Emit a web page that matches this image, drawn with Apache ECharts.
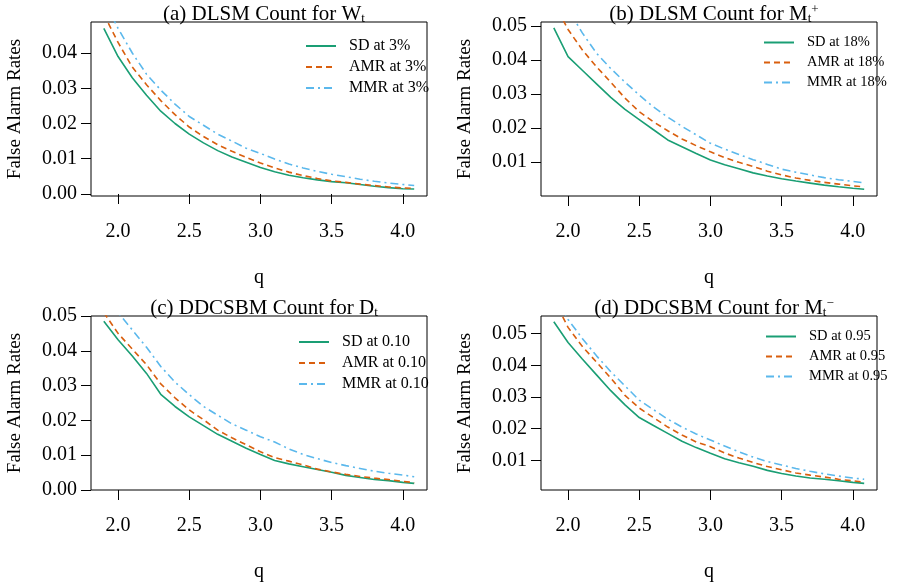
<!DOCTYPE html>
<html lang="en">
<head>
<meta charset="UTF-8">
<title>False Alarm Rates</title>
<style>html,body{margin:0;padding:0;background:#fff}#main{width:900px;height:588px}</style>
</head>
<body>
<div id="main"></div>
<script src="https://cdn.jsdelivr.net/npm/echarts@6/dist/echarts.min.js"></script>
<script>
var q = [1.9, 2.0, 2.1, 2.2, 2.3, 2.4, 2.5, 2.6, 2.7, 2.8, 2.9, 3.0, 3.1, 3.2, 3.3, 3.4, 3.5, 3.6, 3.7, 3.8, 3.9, 4.0, 4.08];
var xTicks = [2.0, 2.5, 3.0, 3.5, 4.0];

// (a) DLSM, W_t
var sdA  = [0.047, 0.039, 0.033, 0.028, 0.0235, 0.020, 0.017, 0.0145, 0.0123, 0.0105, 0.009, 0.0075, 0.0063, 0.0053, 0.0046, 0.004, 0.0035, 0.0032, 0.0027, 0.0022, 0.0018, 0.0015, 0.0014];
var amrA = [0.051, 0.043, 0.036, 0.031, 0.0265, 0.0225, 0.019, 0.0163, 0.014, 0.0121, 0.0104, 0.0088, 0.0074, 0.0062, 0.0052, 0.0044, 0.0037, 0.0033, 0.0028, 0.0024, 0.002, 0.0017, 0.0016];
var mmrA = [0.055, 0.047, 0.040, 0.034, 0.0295, 0.0255, 0.022, 0.0195, 0.017, 0.015, 0.013, 0.0115, 0.0099, 0.0085, 0.0074, 0.0064, 0.0056, 0.0049, 0.0042, 0.0036, 0.0031, 0.0027, 0.0024];
// (b) DLSM, M_t^+
var sdB  = [0.0495, 0.041, 0.037, 0.033, 0.029, 0.0255, 0.0225, 0.0195, 0.0165, 0.0145, 0.0125, 0.0106, 0.0092, 0.008, 0.0068, 0.0059, 0.0051, 0.0044, 0.0038, 0.0032, 0.0027, 0.0023, 0.002];
var amrB = [0.057, 0.049, 0.043, 0.038, 0.0335, 0.0288, 0.0248, 0.0218, 0.0192, 0.0168, 0.0148, 0.013, 0.0113, 0.0099, 0.0087, 0.0073, 0.0062, 0.0053, 0.0046, 0.004, 0.0035, 0.003, 0.0027];
var mmrB = [0.063, 0.055, 0.048, 0.042, 0.0375, 0.0335, 0.0297, 0.0262, 0.0232, 0.0205, 0.018, 0.0155, 0.0138, 0.0122, 0.0107, 0.0093, 0.0079, 0.007, 0.0062, 0.0054, 0.0048, 0.0043, 0.0039];
// (c) DDCSBM, D_t
var sdC  = [0.0485, 0.0432, 0.0385, 0.0335, 0.0275, 0.024, 0.021, 0.0185, 0.016, 0.014, 0.012, 0.0102, 0.0085, 0.0075, 0.0067, 0.0059, 0.0051, 0.0042, 0.0036, 0.003, 0.0027, 0.0022, 0.0019];
var amrC = [0.051, 0.045, 0.0405, 0.036, 0.0305, 0.0265, 0.023, 0.0202, 0.0172, 0.015, 0.013, 0.011, 0.0093, 0.0083, 0.0072, 0.006, 0.0052, 0.0045, 0.0039, 0.0034, 0.003, 0.0025, 0.0021];
var mmrC = [0.058, 0.051, 0.046, 0.041, 0.0355, 0.031, 0.0274, 0.024, 0.0215, 0.019, 0.0172, 0.0153, 0.0138, 0.0118, 0.0102, 0.009, 0.0079, 0.007, 0.0062, 0.0054, 0.0048, 0.0043, 0.0038];
// (d) DDCSBM, M_t^-
var sdD  = [0.0538, 0.0472, 0.042, 0.037, 0.032, 0.0275, 0.0235, 0.021, 0.0185, 0.016, 0.014, 0.0122, 0.0105, 0.0092, 0.0081, 0.0068, 0.0058, 0.005, 0.0044, 0.004, 0.0035, 0.003, 0.0027];
var amrD = [0.061, 0.052, 0.046, 0.041, 0.036, 0.0305, 0.0265, 0.0235, 0.0205, 0.018, 0.0158, 0.0143, 0.0123, 0.0107, 0.0093, 0.008, 0.007, 0.006, 0.0053, 0.0047, 0.004, 0.0035, 0.0031];
var mmrD = [0.063, 0.0545, 0.0485, 0.043, 0.038, 0.0335, 0.029, 0.026, 0.023, 0.0205, 0.0183, 0.0164, 0.0145, 0.0127, 0.011, 0.0096, 0.0085, 0.0074, 0.0065, 0.0057, 0.005, 0.0044, 0.004];

var levels = ['3%', '18%', '0.10', '0.95'];
var yTicksA = [0, 0.01, 0.02, 0.03, 0.04];
var yTicksB = [0.01, 0.02, 0.03, 0.04, 0.05];
var yTicksC = [0, 0.01, 0.02, 0.03, 0.04, 0.05];

var FONT = '"Liberation Serif", "DejaVu Serif", serif';
var colors = ['#1a9e74', '#d95f0e', '#5bb8ec'];
var dashes = ['solid', [6, 4], [8, 4, 2, 4]];

var panels = [
    {left: 91, top: 22, ymin: -0.00057, ymax: 0.0488, ticks: yTicksA, data: [sdA, amrA, mmrA], lg: [300, 33], fs: 16},
    {left: 541, top: 22, ymin: 0, ymax: 0.0512, ticks: yTicksB, data: [sdB, amrB, mmrB], lg: [758, 30], fs: 14.5},
    {left: 91, top: 316, ymin: 0, ymax: 0.05, ticks: yTicksC, data: [sdC, amrC, mmrC], lg: [293, 329], fs: 16},
    {left: 541, top: 316, ymin: 0.0006, ymax: 0.0556, ticks: yTicksB, data: [sdD, amrD, mmrD], lg: [760, 324], fs: 14.5}
];
var titles = [
    ['(a) DLSM Count for W', '{sub|t}'],
    ['(b) DLSM Count for M', '{sub|t}{sup|+}'],
    ['(c) DDCSBM Count for D', '{sub|t}'],
    ['(d) DDCSBM Count for M', '{sub|t}{sup|\u2212}']
];
var methods = ['SD', 'AMR', 'MMR'];

var option = {
    animation: false,
    backgroundColor: '#fff',
    textStyle: {fontFamily: FONT},
    grid: [], xAxis: [], yAxis: [], series: [], legend: [], title: []
};

panels.forEach(function (p, i) {
    option.grid.push({left: p.left, top: p.top, width: 336, height: 174, show: true, borderColor: '#000', borderWidth: 1});
    option.xAxis.push({
        type: 'value', gridIndex: i, min: 1.81, max: 4.17,
        name: 'q', nameLocation: 'middle', nameGap: 72,
        nameTextStyle: {fontFamily: FONT, fontSize: 20, color: '#000'},
        axisLine: {show: false},
        axisTick: {show: true, length: 10, lineStyle: {color: '#000'}, customValues: xTicks},
        axisLabel: {fontFamily: FONT, fontSize: 20, color: '#000', margin: 26, customValues: xTicks,
            formatter: function (v) { return v.toFixed(1); }},
        splitLine: {show: false}
    });
    option.yAxis.push({
        type: 'value', gridIndex: i, min: p.ymin, max: p.ymax,
        name: 'False Alarm Rates', nameLocation: 'middle', nameGap: 66,
        nameTextStyle: {fontFamily: FONT, fontSize: 19, color: '#000'},
        axisLine: {show: false},
        axisTick: {show: true, length: 10, lineStyle: {color: '#000'}, customValues: p.ticks},
        axisLabel: {fontFamily: FONT, fontSize: 20, color: '#000', margin: 14, customValues: p.ticks,
            formatter: function (v) { return v.toFixed(2); }},
        splitLine: {show: false}
    });
    var names = [];
    methods.forEach(function (m, k) {
        var name = m + ' at ' + levels[i];
        names.push(name);
        option.series.push({
            name: name, type: 'line', xAxisIndex: i, yAxisIndex: i,
            data: q.map(function (x, j) { return [x, p.data[k][j]]; }),
            symbol: 'none', clip: true,
            lineStyle: {color: colors[k], width: 1.6, type: dashes[k]},
            itemStyle: {color: colors[k]}
        });
    });
    option.legend.push({
        data: names, orient: 'vertical', left: p.lg[0], top: p.lg[1],
        itemWidth: 30, itemHeight: 12, itemGap: 5, selectedMode: false,
        itemStyle: {opacity: 0},
        textStyle: {fontFamily: FONT, fontSize: p.fs, color: '#000', padding: [0, 0, 0, 8]}
    });
    option.title.push({
        text: titles[i][0] + titles[i][1],
        left: p.left + 168, top: p.top - 24, textAlign: 'center',
        textStyle: {
            fontFamily: FONT, fontSize: 21, fontWeight: 'normal', color: '#000',
            rich: {
                sub: {fontFamily: FONT, fontSize: 13, color: '#000', padding: [9, 0, 0, 0]},
                sup: {fontFamily: FONT, fontSize: 13, color: '#000', padding: [0, 0, 9, 0]}
            }
        }
    });
});

var chart = echarts.init(document.getElementById('main'));
chart.setOption(option);
</script>
</body>
</html>
